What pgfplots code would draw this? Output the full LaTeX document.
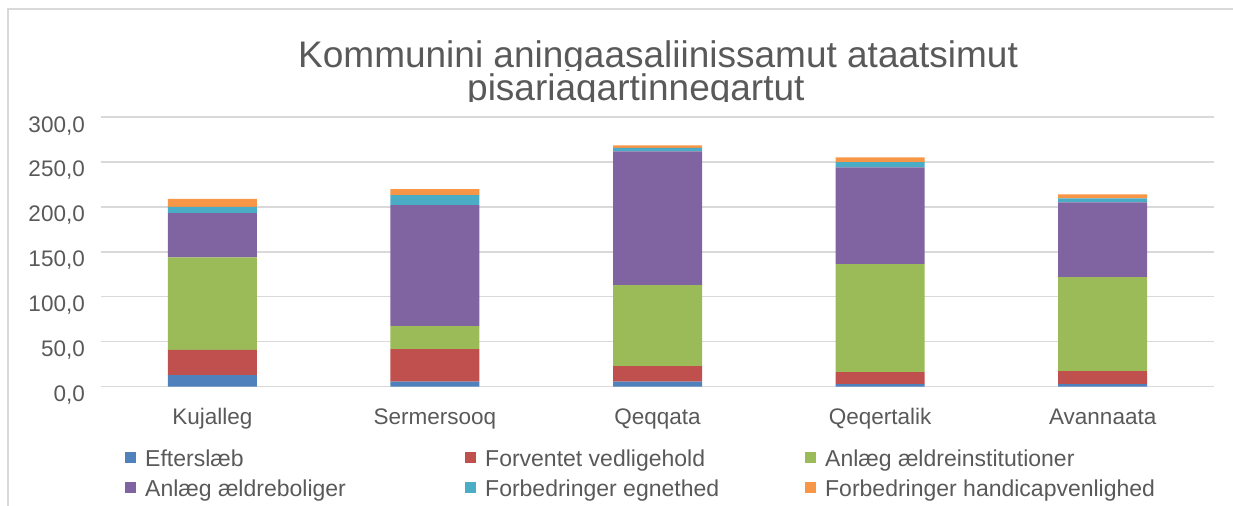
\documentclass[border=0pt]{standalone}
\usepackage{pgfplots}
\pgfplotsset{compat=1.18}
\usepackage{fontspec}
\setmainfont{Liberation Sans}
\definecolor{cBlue}{HTML}{4F81BD}
\definecolor{cRed}{HTML}{C0504D}
\definecolor{cGreen}{HTML}{9BBB59}
\definecolor{cPurple}{HTML}{8064A2}
\definecolor{cAqua}{HTML}{4BACC6}
\definecolor{cOrange}{HTML}{F79646}
\definecolor{gridc}{HTML}{D9D9D9}
\definecolor{txt}{HTML}{595959}
\begin{document}
\begin{tikzpicture}
\path[use as bounding box] (0bp,0bp) rectangle (1233bp,-506bp);
% title
\begin{scope}
\clip (0bp,-11bp) rectangle (1233bp,-70bp);
\node[anchor=base west, inner sep=0pt, text=txt, font=\fontsize{37bp}{40bp}\selectfont] at (298bp,-67bp) {Kommunini aningaasaliinissamut ataatsimut};
\end{scope}
\begin{scope}
\clip (0bp,-70bp) rectangle (1233bp,-101bp);
\node[anchor=base west, inner sep=0pt, text=txt, font=\fontsize{37bp}{40bp}\selectfont] at (467bp,-100bp) {pisariaqartinneqartut};
\end{scope}
\begin{axis}[
  at={(101bp,-386.7bp)}, anchor=south west,
  scale only axis, width=1113bp, height=269.7bp,
  ybar stacked, bar width=89bp,
  xmin=-0.5, xmax=4.5, ymin=0, ymax=300,
  xtick={0,1,2,3,4},
  xticklabels={Kujalleg, Sermersooq, Qeqqata, Qeqertalik, Avannaata},
  ytick={0,50,100,150,200,250,300},
  axis line style={draw=none},
  major tick length=0pt,
  ymajorgrids, major grid style={draw=gridc, line width=1.3bp},
  /pgf/number format/assume math mode=true,
  yticklabel style={/pgf/number format/fixed, /pgf/number format/fixed zerofill, /pgf/number format/precision=1, /pgf/number format/use comma, /pgf/number format/1000 sep={}},
  ticklabel style={font=\fontsize{22.5bp}{26bp}\selectfont, text=txt, inner sep=0pt},
  yticklabel style={anchor=base east, xshift=-16bp, yshift=-15bp},
  xticklabel style={anchor=base, yshift=-37.3bp},
  legend columns=3,
  legend style={at={(0.02156,-0.2336)}, anchor=north west, draw=none, fill=none, inner sep=0pt, column sep=0pt, row sep=8bp,
    font=\fontsize{23bp}{27bp}\selectfont, text=txt,
    cells={anchor=base west}, nodes={inner sep=0pt, text height=17bp, text depth=5bp}},
  leg/.style={legend image code/.code={\fill[##1] (0bp,3.7bp) rectangle (11bp,14.7bp); \path (0bp,0bp) (20bp,0bp);}},
]
\addplot[fill=cBlue, draw=none, leg] coordinates {(0,13) (1,5.6) (2,5.6) (3,3) (4,3)};
\addlegendentry{\makebox[320bp][l]{Efterslæb}}
\addplot[fill=cRed, draw=none, leg] coordinates {(0,28) (1,36.3) (2,17.4) (3,13.3) (4,14.4)};
\addlegendentry{\makebox[320bp][l]{Forventet vedligehold}}
\addplot[fill=cGreen, draw=none, leg] coordinates {(0,103) (1,25.5) (2,90) (3,120) (4,104.5)};
\addlegendentry{\makebox[320bp][l]{Anlæg ældreinstitutioner}}
\addplot[fill=cPurple, draw=none, leg] coordinates {(0,49) (1,134.5) (2,148.9) (3,107.7) (4,83.1)};
\addlegendentry{\makebox[320bp][l]{Anlæg ældreboliger}}
\addplot[fill=cAqua, draw=none, leg] coordinates {(0,7) (1,11.1) (2,3.7) (3,5.7) (4,4.5)};
\addlegendentry{\makebox[320bp][l]{Forbedringer egnethed}}
\addplot[fill=cOrange, draw=none, leg] coordinates {(0,9) (1,6.7) (2,2.9) (3,5.3) (4,4.4)};
\addlegendentry{\makebox[320bp][l]{Forbedringer handicapvenlighed}}
\end{axis}
\draw[line width=2bp, gridc] (8.3bp,-506bp) -- (8.3bp,-9.3bp) -- (1233bp,-9.3bp);
\end{tikzpicture}
\end{document}
